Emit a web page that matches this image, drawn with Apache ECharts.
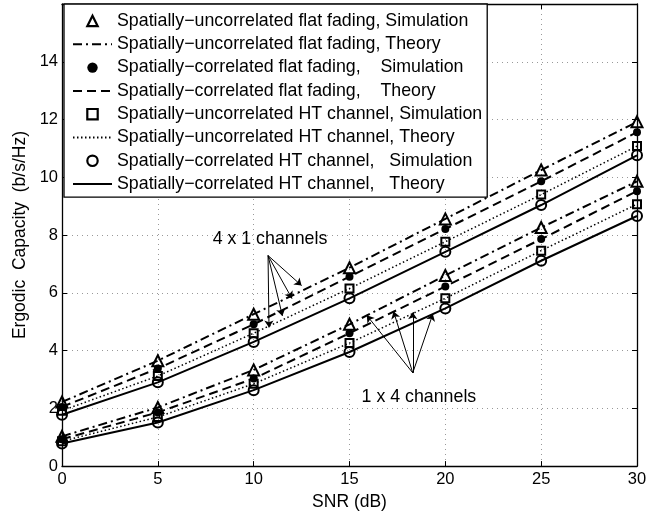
<!DOCTYPE html>
<html>
<head>
<meta charset="utf-8">
<script src="https://cdn.jsdelivr.net/npm/echarts@6/dist/echarts.min.js"></script>
<style>
  html, body { margin: 0; padding: 0; background: #fff; }
  #main { width: 660px; height: 516px; }
</style>
</head>
<body>
<div id="main"></div>
<script>
// SNR points (dB)
var snr = [0, 5, 10, 15, 20, 25, 30];

// 4 x 1 channels (upper group)
var flatUncorr4x1 = [2.22, 3.65, 5.26, 6.87, 8.56, 10.25, 11.92];
var flatCorr4x1 = [2.05, 3.38, 4.91, 6.56, 8.21, 9.86, 11.56];
var htUncorr4x1 = [1.92, 3.12, 4.6, 6.15, 7.77, 9.4, 11.08];
var htCorr4x1 = [1.78, 2.9, 4.3, 5.81, 7.42, 9.04, 10.76];

// 1 x 4 channels (lower group)
var flatUncorr1x4 = [1.03, 2.03, 3.33, 4.91, 6.6, 8.26, 9.86];
var flatCorr1x4 = [0.93, 1.86, 3.03, 4.6, 6.22, 7.86, 9.52];
var htUncorr1x4 = [0.86, 1.7, 2.85, 4.26, 5.81, 7.46, 9.07];
var htCorr1x4 = [0.78, 1.51, 2.63, 3.95, 5.46, 7.11, 8.66];

var legendNames = [
  "Spatially\u2212uncorrelated flat fading, Simulation",
  "Spatially\u2212uncorrelated flat fading, Theory",
  "Spatially\u2212correlated flat fading,    Simulation",
  "Spatially\u2212correlated flat fading,    Theory",
  "Spatially\u2212uncorrelated HT channel, Simulation",
  "Spatially\u2212uncorrelated HT channel, Theory",
  "Spatially\u2212correlated HT channel,   Simulation",
  "Spatially\u2212correlated HT channel,   Theory"
];

// annotation arrows, [from, to] in data coords
var arrows4x1 = [
  [[10.75, 7.29], [12.5, 6.25]],
  [[10.75, 7.29], [12.0, 5.8]],
  [[10.75, 7.29], [11.5, 5.2]],
  [[10.75, 7.29], [10.8, 4.8]]
];
var arrows1x4 = [
  [[18.3, 3.23], [15.9, 5.22]],
  [[18.3, 3.23], [17.3, 5.35]],
  [[18.3, 3.23], [18.3, 5.33]],
  [[18.3, 3.23], [19.35, 5.27]]
];
var labelPos4x1 = [10.85, 7.85];
var labelPos1x4 = [18.62, 2.4];

var FONT = "Liberation Sans, Arial, Helvetica, sans-serif";

function pairs(values) {
  return snr.map(function (x, i) {
    return [x, values[i]];
  });
}

var markers = [
  { symbol: "triangle", size: 11, filled: false },
  { symbol: "circle", size: 8, filled: true },
  { symbol: "rect", size: 8, filled: false },
  { symbol: "circle", size: 10, filled: false }
];
var dashes = [[9, 4, 2, 4], [9, 5], [1.5, 2.5], "solid"];
var groups = [
  [flatUncorr4x1, flatUncorr1x4],
  [flatCorr4x1, flatCorr1x4],
  [htUncorr4x1, htUncorr1x4],
  [htCorr4x1, htCorr1x4]
];

var series = [];
var legendData = [];

// simulation markers first, theory lines drawn over them
groups.forEach(function (g, k) {
  var m = markers[k];
  var style = {
    color: m.filled ? "#000" : "rgba(0,0,0,0)",
    borderColor: "#000",
    borderWidth: m.filled ? 0 : 2
  };
  g.forEach(function (vals) {
    series.push({
      name: legendNames[k * 2],
      type: "line",
      data: pairs(vals),
      symbol: m.symbol,
      symbolSize: m.size,
      showAllSymbol: true,
      lineStyle: { width: 0, opacity: 0 },
      itemStyle: style,
      emphasis: { disabled: true },
      z: 3
    });
  });
  legendData.push({
    name: legendNames[k * 2],
    itemStyle: {
      color: m.filled ? "#000" : "rgba(0,0,0,0)",
      borderColor: "#000",
      borderWidth: m.filled ? 0 : 2.2,
      opacity: 1
    },
    lineStyle: { width: 0, opacity: 0 }
  });
  legendData.push({
    name: legendNames[k * 2 + 1],
    itemStyle: { opacity: 0 },
    lineStyle: { color: "#000", width: 2, type: dashes[k], opacity: 1 }
  });
});

groups.forEach(function (g, k) {
  g.forEach(function (vals) {
    series.push({
      name: legendNames[k * 2 + 1],
      type: "line",
      data: pairs(vals),
      symbol: "none",
      lineStyle: {
        color: "#000",
        width: k === 2 ? 1.5 : 2,
        type: dashes[k]
      },
      itemStyle: { color: "#000" },
      emphasis: { disabled: true },
      z: 4
    });
  });
});

function arrowData(list) {
  return list.map(function (a) {
    return [{ coord: a[0] }, { coord: a[1] }];
  });
}

// annotations hang on a hidden helper series
series.push({
  type: "line",
  data: [],
  silent: true,
  markLine: {
    silent: true,
    symbol: ["none", "arrow"],
    symbolSize: 7,
    label: { show: false },
    lineStyle: { color: "#000", width: 1, type: "solid" },
    data: arrowData(arrows4x1).concat(arrowData(arrows1x4))
  },
  markPoint: {
    silent: true,
    symbol: "circle",
    symbolSize: 1,
    itemStyle: { color: "rgba(0,0,0,0)" },
    label: {
      show: true,
      position: "inside",
      color: "#000",
      fontSize: 17.8,
      fontFamily: FONT
    },
    data: [
      { coord: labelPos4x1, label: { formatter: "4 x 1 channels" } },
      { coord: labelPos1x4, label: { formatter: "1 x 4 channels" } }
    ]
  }
});

var gridLine = { show: true, lineStyle: { color: "#999", width: 1, type: [1, 4] } };
var tick = { show: true, inside: true, length: 5, lineStyle: { color: "#000", width: 1 } };
var axisLine = { show: true, onZero: false, lineStyle: { color: "#000", width: 1.3 } };

var option = {
  animation: false,
  backgroundColor: "#fff",
  grid: { left: 62, right: 23, top: 4, bottom: 46 },
  legend: {
    data: legendData,
    orient: "vertical",
    left: 64,
    top: 4,
    padding: [8, 5, 4, 8],
    itemGap: 5.3,
    itemWidth: 39,
    itemHeight: 13,
    backgroundColor: "#fff",
    borderColor: "#000",
    borderWidth: 1.3,
    borderRadius: 0,
    selectedMode: false,
    z: 10,
    textStyle: { color: "#000", fontSize: 17.8, fontFamily: FONT }
  },
  xAxis: [
    {
      type: "value",
      min: 0,
      max: 30,
      interval: 5,
      name: "SNR (dB)",
      nameLocation: "middle",
      nameGap: 21,
      nameTextStyle: { color: "#000", fontSize: 17.5, fontFamily: FONT },
      axisLine: axisLine,
      axisTick: tick,
      axisLabel: { color: "#000", fontSize: 16.5, fontFamily: FONT, margin: 5 },
      splitLine: gridLine
    },
    {
      type: "value",
      position: "top",
      min: 0,
      max: 30,
      interval: 5,
      axisLine: axisLine,
      axisTick: tick,
      axisLabel: { show: false },
      splitLine: { show: false }
    }
  ],
  yAxis: [
    {
      type: "value",
      min: 0,
      max: 16,
      interval: 2,
      name: "Ergodic  Capacity  (b/s/Hz)",
      nameLocation: "middle",
      nameGap: 33,
      nameTextStyle: { color: "#000", fontSize: 17.5, fontFamily: FONT },
      axisLine: axisLine,
      axisTick: tick,
      axisLabel: {
        color: "#000",
        fontSize: 16.5,
        fontFamily: FONT,
        margin: 4,
        showMaxLabel: false
      },
      splitLine: gridLine
    },
    {
      type: "value",
      position: "right",
      min: 0,
      max: 16,
      interval: 2,
      axisLine: axisLine,
      axisTick: tick,
      axisLabel: { show: false },
      splitLine: { show: false }
    }
  ],
  series: series
};

var myChart = echarts.init(document.getElementById("main"), null, { renderer: "canvas" });
myChart.setOption(option);
</script>
</body>
</html>
